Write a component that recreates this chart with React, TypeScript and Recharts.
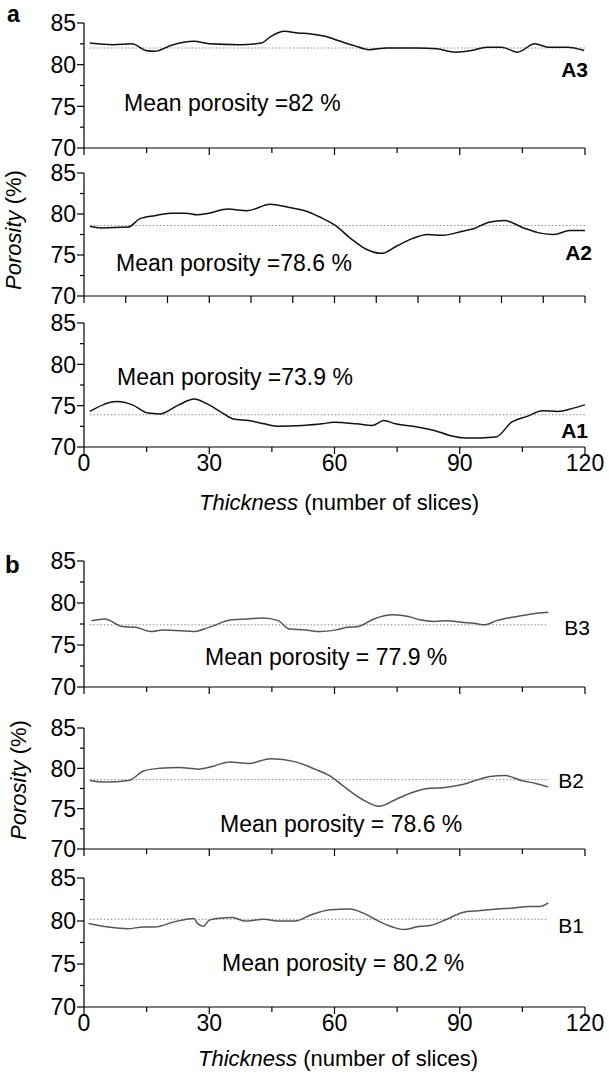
import React from 'react';
import { LineChart, Line, XAxis, YAxis, ReferenceLine } from 'recharts';

const FONT = '"Liberation Sans", Arial, Helvetica, sans-serif';

// ---------- data (thickness in slices, porosity in %) ----------
const A3_X = [1.4, 7, 11.5, 14.8, 17, 20.8, 26.3, 30, 37.4, 42.5, 44.8, 48, 51.2, 54, 57.7, 61.4, 64.6, 68.3, 72.5, 79.8, 84.5, 89, 92.8, 96.5, 100, 103.8, 108, 111.2, 115.8, 119.8];
const A3_Y = [82.6, 82.4, 82.5, 81.7, 81.6, 82.3, 82.8, 82.5, 82.4, 82.6, 83.4, 84.0, 83.8, 83.7, 83.4, 82.8, 82.3, 81.8, 82.0, 82.0, 81.9, 81.5, 81.7, 82.1, 82.1, 81.5, 82.5, 82.1, 82.1, 81.7];

const A2_X = [1.4, 4.1, 10.6, 13.3, 17, 20.7, 24.4, 27.1, 29.9, 34.5, 39.1, 44.6, 49.2, 52.9, 56.6, 60.2, 63.9, 67.6, 71.3, 74.9, 78.6, 82.3, 86, 90.6, 93.3, 97, 100.7, 105.3, 109, 112.6, 116.3, 120];
const A2_Y = [78.5, 78.3, 78.4, 79.4, 79.8, 80.1, 80.1, 79.9, 80.1, 80.6, 80.4, 81.2, 80.8, 80.4, 79.6, 78.6, 77.0, 75.7, 75.2, 76.1, 77.0, 77.5, 77.4, 77.9, 78.2, 79.0, 79.2, 78.3, 77.7, 77.5, 78.0, 78.0];

const A1_X = [1.4, 7.9, 11.6, 15.3, 18.1, 22.7, 26.4, 29.2, 32.9, 35.7, 39.4, 43.1, 46.8, 52.4, 57, 59.8, 65.3, 69, 71.8, 74.6, 80.2, 83.9, 87.6, 91.3, 95, 98.7, 102.4, 106.1, 109.8, 113.5, 117.2, 120];
const A1_Y = [74.3, 75.5, 75.1, 74.1, 74.0, 75.1, 75.8, 75.3, 74.2, 73.4, 73.2, 72.8, 72.5, 72.6, 72.8, 73.0, 72.8, 72.6, 73.2, 72.8, 72.4, 72.0, 71.4, 71.1, 71.1, 71.2, 73.0, 73.7, 74.4, 74.3, 74.7, 75.1];

const B3_X = [1.8, 5, 9.2, 12.4, 16.1, 18.9, 23.5, 26.2, 29.9, 35.4, 39.1, 42.8, 46.5, 49.2, 52.9, 56.6, 60.3, 63, 65.7, 69.4, 74, 77.7, 80.4, 84.1, 86.8, 90.5, 93.3, 96, 98.8, 102.5, 106.2, 108.9, 111.2];
const B3_Y = [77.9, 78.1, 77.2, 77.1, 76.6, 76.8, 76.7, 76.6, 77.1, 78.0, 78.1, 78.2, 77.9, 76.9, 76.8, 76.6, 76.8, 77.1, 77.2, 78.1, 78.6, 78.4, 78.0, 77.8, 77.9, 77.7, 77.6, 77.4, 77.9, 78.3, 78.6, 78.8, 78.9];

const B2_X = [1.4, 5.1, 10.7, 14.4, 18.1, 22.8, 27.4, 31.2, 34.9, 39.5, 44.7, 50.7, 55.3, 59.1, 61.9, 66.5, 70.7, 74.9, 78.6, 82.3, 86, 90.7, 94.4, 97.2, 100.9, 104.7, 108.4, 111.2];
const B2_Y = [78.5, 78.3, 78.5, 79.7, 80.0, 80.1, 79.9, 80.3, 80.8, 80.6, 81.2, 80.8, 79.9, 79.0, 77.9, 76.2, 75.3, 76.2, 77.0, 77.5, 77.6, 78.0, 78.6, 79.0, 79.1, 78.5, 78.1, 77.7];

const B1_X = [1.1, 5.8, 10.4, 14.2, 17, 21.6, 26.3, 27.2, 28.6, 30, 31.9, 35.6, 38.4, 43.1, 46.8, 50.6, 54.3, 59, 63.6, 67.4, 70.1, 73.9, 76.7, 79.5, 83.2, 86.9, 90.7, 94.4, 99.1, 102.8, 106.5, 109.3, 111.2];
const B1_Y = [79.7, 79.3, 79.1, 79.3, 79.3, 79.9, 80.3, 79.7, 79.4, 80.1, 80.3, 80.4, 80.0, 80.2, 80.0, 80.0, 80.7, 81.3, 81.4, 80.8, 80.1, 79.3, 79.0, 79.3, 79.5, 80.2, 81.0, 81.2, 81.4, 81.5, 81.7, 81.7, 82.1];

const MEANS = { A3: 82.0, A2: 78.6, A1: 73.9, B3: 77.4, B2: 78.6, B1: 80.2 };
const MEAN_TEXT = {
  A3: 'Mean porosity =82 %',
  A2: 'Mean porosity =78.6 %',
  A1: 'Mean porosity =73.9 %',
  B3: 'Mean porosity = 77.9 %',
  B2: 'Mean porosity = 78.6 %',
  B1: 'Mean porosity = 80.2 %',
};

const Y_TICKS = [70, 72.5, 75, 77.5, 80, 82.5, 85];
const X_TICKS_15 = [0, 15, 30, 45, 60, 75, 90, 105, 120];
const X_TICKS_10 = [0, 10, 20, 30, 40, 50, 60, 70, 80, 90, 100, 110, 120];
const X_LABELS = [0, 30, 60, 90, 120];

const zip = (xs: number[], ys: number[]) => xs.map((x, i) => ({ x, v: ys[i] }));

// ---------- layout ----------
const PLOT_LEFT = 84;
const PLOT_RIGHT = 585;
const PAD_TOP = 18;
const AXIS_H = 45;

const YTick = (props: any) => {
  const { x, y, payload } = props;
  const v = payload.value;
  const major = v % 5 === 0;
  return (
    <g>
      <line x1={x} x2={x - (major ? 7 : 4)} y1={y} y2={y} stroke="#000" strokeWidth={1.2} />
      {major && (
        <text x={x - 8} y={y} dy="0.36em" textAnchor="end" fontSize={23} fontFamily={FONT} fill="#000">
          {v}
        </text>
      )}
    </g>
  );
};

const makeXTick = (showLabels: boolean, every: number) => (props: any) => {
  const { x, y, payload } = props;
  const v = payload.value;
  const major = every === 15 ? v % 30 === 0 : true;
  return (
    <g>
      <line x1={x} x2={x} y1={y} y2={y + (major ? 7 : 5)} stroke="#000" strokeWidth={1.2} />
      {showLabels && X_LABELS.includes(v) && (
        <text x={x} y={y + 24} textAnchor="middle" fontSize={23} fontFamily={FONT} fill="#000">
          {v}
        </text>
      )}
    </g>
  );
};

type PanelProps = {
  plotTop: number;
  plotBottom: number;
  data: { x: number; v: number }[];
  mean: number;
  meanEnd: number;
  color: string;
  xTicks: number[];
  every: number;
  showLabels: boolean;
};

function Panel({ plotTop, plotBottom, data, mean, meanEnd, color, xTicks, every, showLabels }: PanelProps) {
  const plotH = plotBottom - plotTop;
  const h = PAD_TOP + plotH + AXIS_H;
  return (
    <div style={{ position: 'absolute', left: 0, top: plotTop - PAD_TOP, width: 609, height: h }}>
      <LineChart
        width={609}
        height={h}
        data={data}
        margin={{ top: PAD_TOP, right: 609 - PLOT_RIGHT, bottom: 0, left: 0 }}
      >
        <XAxis
          dataKey="x"
          type="number"
          domain={[0, 120]}
          ticks={xTicks}
          interval={0}
          height={AXIS_H}
          tickSize={0}
          tickMargin={0}
          tickLine={false}
          axisLine={{ stroke: '#000', strokeWidth: 1.2 }}
          tick={makeXTick(showLabels, every)}
          allowDataOverflow
        />
        <YAxis
          type="number"
          domain={[70, 85]}
          ticks={Y_TICKS}
          interval={0}
          width={PLOT_LEFT}
          tickSize={0}
          tickMargin={0}
          tickLine={false}
          axisLine={{ stroke: '#000', strokeWidth: 1.2 }}
          tick={<YTick />}
          allowDataOverflow
        />
        <ReferenceLine
          segment={[{ x: 1.4, y: mean }, { x: meanEnd, y: mean }]}
          stroke="#888"
          strokeWidth={1}
          strokeDasharray="1.5 2"
        />
        <Line
          dataKey="v"
          type="monotone"
          stroke={color}
          strokeWidth={1.5}
          dot={false}
          isAnimationActive={false}
        />
      </LineChart>
    </div>
  );
}

const txt = { fontFamily: FONT, fill: '#000' } as const;

export default function App() {
  const A_COLOR = '#111';
  const B_COLOR = '#555';
  return (
    <div style={{ position: 'absolute', left: 0, top: 0, width: 609, height: 1073, background: '#fff', overflow: 'hidden' }}>
      <Panel plotTop={23} plotBottom={148} data={zip(A3_X, A3_Y)} mean={MEANS.A3} meanEnd={120} color={A_COLOR} xTicks={X_TICKS_15} every={15} showLabels={false} />
      <Panel plotTop={173} plotBottom={296} data={zip(A2_X, A2_Y)} mean={MEANS.A2} meanEnd={120} color={A_COLOR} xTicks={X_TICKS_10} every={10} showLabels={false} />
      <Panel plotTop={323} plotBottom={447} data={zip(A1_X, A1_Y)} mean={MEANS.A1} meanEnd={120} color={A_COLOR} xTicks={X_TICKS_15} every={15} showLabels={true} />
      <Panel plotTop={561} plotBottom={687} data={zip(B3_X, B3_Y)} mean={MEANS.B3} meanEnd={111} color={B_COLOR} xTicks={X_TICKS_15} every={15} showLabels={false} />
      <Panel plotTop={728} plotBottom={849} data={zip(B2_X, B2_Y)} mean={MEANS.B2} meanEnd={111} color={B_COLOR} xTicks={X_TICKS_15} every={15} showLabels={false} />
      <Panel plotTop={878} plotBottom={1007} data={zip(B1_X, B1_Y)} mean={MEANS.B1} meanEnd={111} color={B_COLOR} xTicks={X_TICKS_15} every={15} showLabels={true} />

      <svg width={609} height={1073} style={{ position: 'absolute', left: 0, top: 0, pointerEvents: 'none' }}>
        <text x={7} y={22} fontSize={23} fontWeight="bold" {...txt}>a</text>
        <text x={5} y={573} fontSize={24} fontWeight="bold" {...txt}>b</text>

        <text x={124} y={111} fontSize={23} {...txt}>{MEAN_TEXT.A3}</text>
        <text x={116} y={271} fontSize={23} {...txt}>{MEAN_TEXT.A2}</text>
        <text x={117} y={385} fontSize={23} {...txt}>{MEAN_TEXT.A1}</text>
        <text x={205} y={665} fontSize={23} {...txt}>{MEAN_TEXT.B3}</text>
        <text x={220} y={832} fontSize={23} {...txt}>{MEAN_TEXT.B2}</text>
        <text x={222} y={971} fontSize={23} {...txt}>{MEAN_TEXT.B1}</text>

        <text x={588} y={77} fontSize={21} fontWeight="bold" textAnchor="end" {...txt}>A3</text>
        <text x={592} y={260} fontSize={21} fontWeight="bold" textAnchor="end" {...txt}>A2</text>
        <text x={588} y={438} fontSize={21} fontWeight="bold" textAnchor="end" {...txt}>A1</text>
        <text x={590} y={635} fontSize={21} textAnchor="end" {...txt}>B3</text>
        <text x={584} y={788} fontSize={21} textAnchor="end" {...txt}>B2</text>
        <text x={584} y={933} fontSize={21} textAnchor="end" {...txt}>B1</text>

        <text x={339} y={510} fontSize={22} textAnchor="middle" {...txt}>
          <tspan fontStyle="italic">Thickness</tspan> (number of slices)
        </text>
        <text x={338} y={1066} fontSize={22} textAnchor="middle" {...txt}>
          <tspan fontStyle="italic">Thickness</tspan> (number of slices)
        </text>

        <text transform="translate(21,230) rotate(-90)" fontSize={22} textAnchor="middle" {...txt}>
          <tspan fontStyle="italic">Porosity</tspan> (%)
        </text>
        <text transform="translate(26,780) rotate(-90)" fontSize={22} textAnchor="middle" {...txt}>
          <tspan fontStyle="italic">Porosity</tspan> (%)
        </text>
      </svg>
    </div>
  );
}
